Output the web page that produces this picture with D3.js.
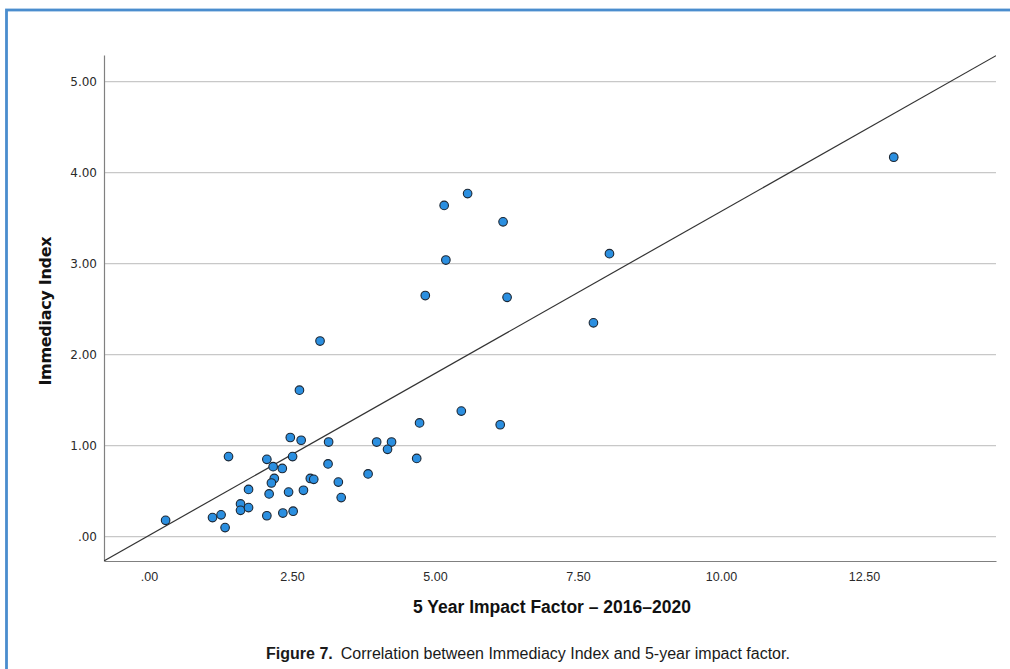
<!DOCTYPE html>
<html>
<head>
<meta charset="utf-8">
<script src="https://cdn.jsdelivr.net/npm/d3@7"></script>
<style>
  html, body { margin: 0; padding: 0; background: #fff; }
  svg { display: block; }
</style>
</head>
<body>
<svg id="chart" width="1010" height="669"></svg>
<script>
// 5-year impact factor (2016–2020) for each journal
const impactFactor5y = [
  0.29, 1.11, 1.26, 1.33, 1.39, 1.60, 1.60, 1.74, 1.74, 2.06,
  2.10, 2.06, 2.17, 2.33, 2.19, 2.14, 2.47, 2.66, 2.51, 2.44,
  2.34, 2.52, 2.70, 2.82, 2.88, 3.14, 3.13, 3.31, 3.36, 3.83,
  3.98, 4.24, 4.17, 2.99, 2.63, 4.73, 4.68, 5.46, 6.14, 4.83,
  6.26, 7.77, 5.19, 8.05, 5.16, 5.57, 6.19, 13.02
];
// Immediacy Index of the same journals
const immediacyIndex = [
  0.18, 0.21, 0.24, 0.10, 0.88, 0.36, 0.29, 0.32, 0.52, 0.85,
  0.47, 0.23, 0.77, 0.75, 0.64, 0.59, 1.09, 1.06, 0.88, 0.49,
  0.26, 0.28, 0.51, 0.64, 0.63, 1.04, 0.80, 0.60, 0.43, 0.69,
  1.04, 1.04, 0.96, 2.15, 1.61, 1.25, 0.86, 1.38, 1.23, 2.65,
  2.63, 2.35, 3.04, 3.11, 3.64, 3.77, 3.46, 4.17
];
// Fit line: Immediacy = intercept + slope * IF5
const fitIntercept = 0.014;
const fitSlope = 0.356;

const xTicks = [0, 2.5, 5, 7.5, 10, 12.5];
const yTicks = [0, 1, 2, 3, 4, 5];
const xDomain = [-0.787, 14.808];
const yDomain = [-0.267, 5.293];

const xTitle = "5 Year Impact Factor \u2013 2016\u20132020";
const yTitle = "Immediacy Index";
const captionLead = "Figure 7.";
const captionText = "Correlation between Immediacy Index and 5-year impact factor.";

const svg = d3.select("#chart");
const W = 1010, H = 669;
const plot = { left: 104, right: 996, top: 55, bottom: 561 };

// Blue frame around the figure
svg.append("rect")
  .attr("x", 6.5).attr("y", 10)
  .attr("width", W + 20).attr("height", H + 20)
  .attr("fill", "none")
  .attr("stroke", "#4a8dce")
  .attr("stroke-width", 2.8);

const x = d3.scaleLinear().domain(xDomain).range([plot.left, plot.right]);
const y = d3.scaleLinear().domain(yDomain).range([plot.bottom, plot.top]);

const fmt = v => { const s = d3.format(".2f")(v); return s.startsWith("0.") ? s.slice(1) : s; };

// Horizontal gridlines
svg.append("g").selectAll("line").data(yTicks).join("line")
  .attr("x1", plot.left).attr("x2", plot.right)
  .attr("y1", d => y(d)).attr("y2", d => y(d))
  .attr("stroke", "#c8c8c8").attr("stroke-width", 1.2);

// Y axis
const yAxis = svg.append("g")
  .attr("transform", `translate(${plot.left},0)`)
  .call(d3.axisLeft(y).tickValues(yTicks).tickFormat(fmt).tickSize(0).tickPadding(7));
yAxis.select(".domain").attr("stroke", "#808080").attr("stroke-width", 1.2);
yAxis.selectAll("text")
  .attr("font-family", "DejaVu Sans, sans-serif")
  .attr("font-size", 12)
  .attr("fill", "#2a2a2a");

// X axis
const xAxis = svg.append("g")
  .attr("transform", `translate(0,${plot.bottom})`)
  .call(d3.axisBottom(x).tickValues(xTicks).tickFormat(fmt).tickSize(0).tickPadding(11));
xAxis.select(".domain").attr("stroke", "#808080").attr("stroke-width", 1.2);
xAxis.selectAll("text")
  .attr("font-family", "Liberation Sans, Arial, sans-serif")
  .attr("font-size", 12.5)
  .attr("fill", "#2a2a2a");

// Fit line, clipped to the plot area
svg.append("clipPath").attr("id", "plotClip")
  .append("rect")
  .attr("x", plot.left).attr("y", plot.top)
  .attr("width", plot.right - plot.left).attr("height", plot.bottom - plot.top);

svg.append("line")
  .attr("clip-path", "url(#plotClip)")
  .attr("x1", x(xDomain[0])).attr("y1", y(fitIntercept + fitSlope * xDomain[0]))
  .attr("x2", x(xDomain[1])).attr("y2", y(fitIntercept + fitSlope * xDomain[1]))
  .attr("stroke", "#333").attr("stroke-width", 1.2);

// Scatter points
const pts = impactFactor5y.map((v, i) => ({ x: v, y: immediacyIndex[i] }));
svg.append("g").selectAll("circle").data(pts).join("circle")
  .attr("cx", d => x(d.x)).attr("cy", d => y(d.y))
  .attr("r", 4.3)
  .attr("fill", "#2b8fe0")
  .attr("stroke", "#1b2633")
  .attr("stroke-width", 1.1);

// Axis titles
svg.append("text")
  .attr("transform", `translate(51,${(y(5) + y(0)) / 2 + 2}) rotate(-90)`)
  .attr("text-anchor", "middle")
  .attr("font-family", "DejaVu Sans, sans-serif")
  .attr("font-weight", "bold")
  .attr("font-size", 16)
  .attr("letter-spacing", -0.3)
  .attr("fill", "#111")
  .text(yTitle);

svg.append("text")
  .attr("x", (plot.left + plot.right) / 2 + 2)
  .attr("y", 613)
  .attr("text-anchor", "middle")
  .attr("font-family", "Liberation Sans, Arial, sans-serif")
  .attr("font-weight", "bold")
  .attr("font-size", 17.5)
  .attr("fill", "#111")
  .text(xTitle);

// Caption
const cap = svg.append("text")
  .attr("x", 528).attr("y", 659)
  .attr("text-anchor", "middle")
  .attr("font-family", "Liberation Sans, Arial, sans-serif")
  .attr("font-size", 16)
  .attr("fill", "#1a1a1a");
cap.append("tspan").attr("font-weight", "bold").text(captionLead);
cap.append("tspan").text("\u2002" + captionText);
</script>
</body>
</html>
